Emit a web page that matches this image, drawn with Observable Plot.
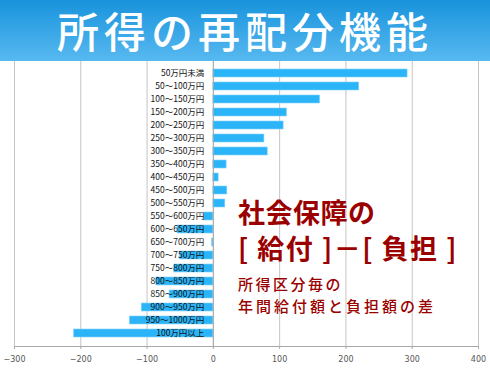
<!DOCTYPE html>
<html><head><meta charset="utf-8">
<script src="https://cdn.jsdelivr.net/npm/d3@7"></script>
<script src="https://cdn.jsdelivr.net/npm/@observablehq/plot@0.6"></script>
<style>
body{margin:0;background:#fff;width:490px;height:368px;overflow:hidden;position:relative;font-family:"Noto Sans CJK JP",sans-serif}
#title{height:61px;background:linear-gradient(#1893dc,#58b9f0);color:#fff;font-size:42px;font-weight:500;text-align:center;line-height:60px;letter-spacing:5px;white-space:nowrap}
#chart{position:absolute;left:0;top:61px}
.note{position:absolute;left:238px;color:#9a0000;white-space:nowrap;line-height:1}
.big{font-size:27px;font-weight:700}
.small{font-size:15px;font-weight:500}
</style></head>
<body>
<div id="title">所得の再配分機能</div>
<div id="chart"></div>
<div class="note big" style="top:198px;letter-spacing:0.5px">社会保障の</div>
<div class="note big" style="top:234px;letter-spacing:1.5px">[ 給付 ]－[ 負担 ]</div>
<div class="note small" style="top:276px;letter-spacing:2.5px">所得区分毎の</div>
<div class="note small" style="top:298px;letter-spacing:3px">年間給付額と負担額の差</div>
<script>
const categories = ["50万円未満","50～100万円","100～150万円","150～200万円","200～250万円","250～300万円","300～350万円","350～400万円","400～450万円","450～500万円","500～550万円","550～600万円","600～650万円","650～700万円","700～750万円","750～800万円","800～850万円","850～900万円","900～950万円","950～1000万円","100万円以上"];
const values = [293,220,161,111,106,77,82,20,8,21,18,-14,-54,-2,-50,-59,-86,-66,-108,-126,-210];
const xTicks = [-300,-200,-100,0,100,200,300,400];
const data = categories.map((c,i)=>({cat:c, value:values[i]}));

const chart = Plot.plot({
  width:490, height:307,
  marginTop:0, marginBottom:22, marginLeft:14, marginRight:12,
  style:{background:"transparent"},
  x:{domain:[-300,400], ticks:xTicks, label:null},
  y:{domain:categories, paddingInner:0.37, paddingOuter:0.24, axis:null},
  marks:[
    Plot.gridX(xTicks,{stroke:"#c4c4c4", strokeOpacity:1}),
    Plot.barX(data,{x:"value", y:"cat", fill:"#2bb4f7", stroke:"#80d2fb", strokeWidth:0.6}),
    Plot.ruleX([0],{stroke:"#a8a8a8"}),
    Plot.frame({anchor:"bottom", stroke:"#a8a8a8"}),
    Plot.axisX({ticks:xTicks, tickSize:3, stroke:"#a8a8a8", fontSize:8, fill:"#555", tickPadding:7, fontFamily:"DejaVu Sans"}),
    Plot.text(data,{x:d=>0, y:"cat", text:"cat", textAnchor:"end", dx:-9, fontSize:8.5, fill:"#111", fontFamily:"Noto Sans CJK JP"})
  ]
});
document.getElementById("chart").appendChild(chart);
</script>
</body></html>
